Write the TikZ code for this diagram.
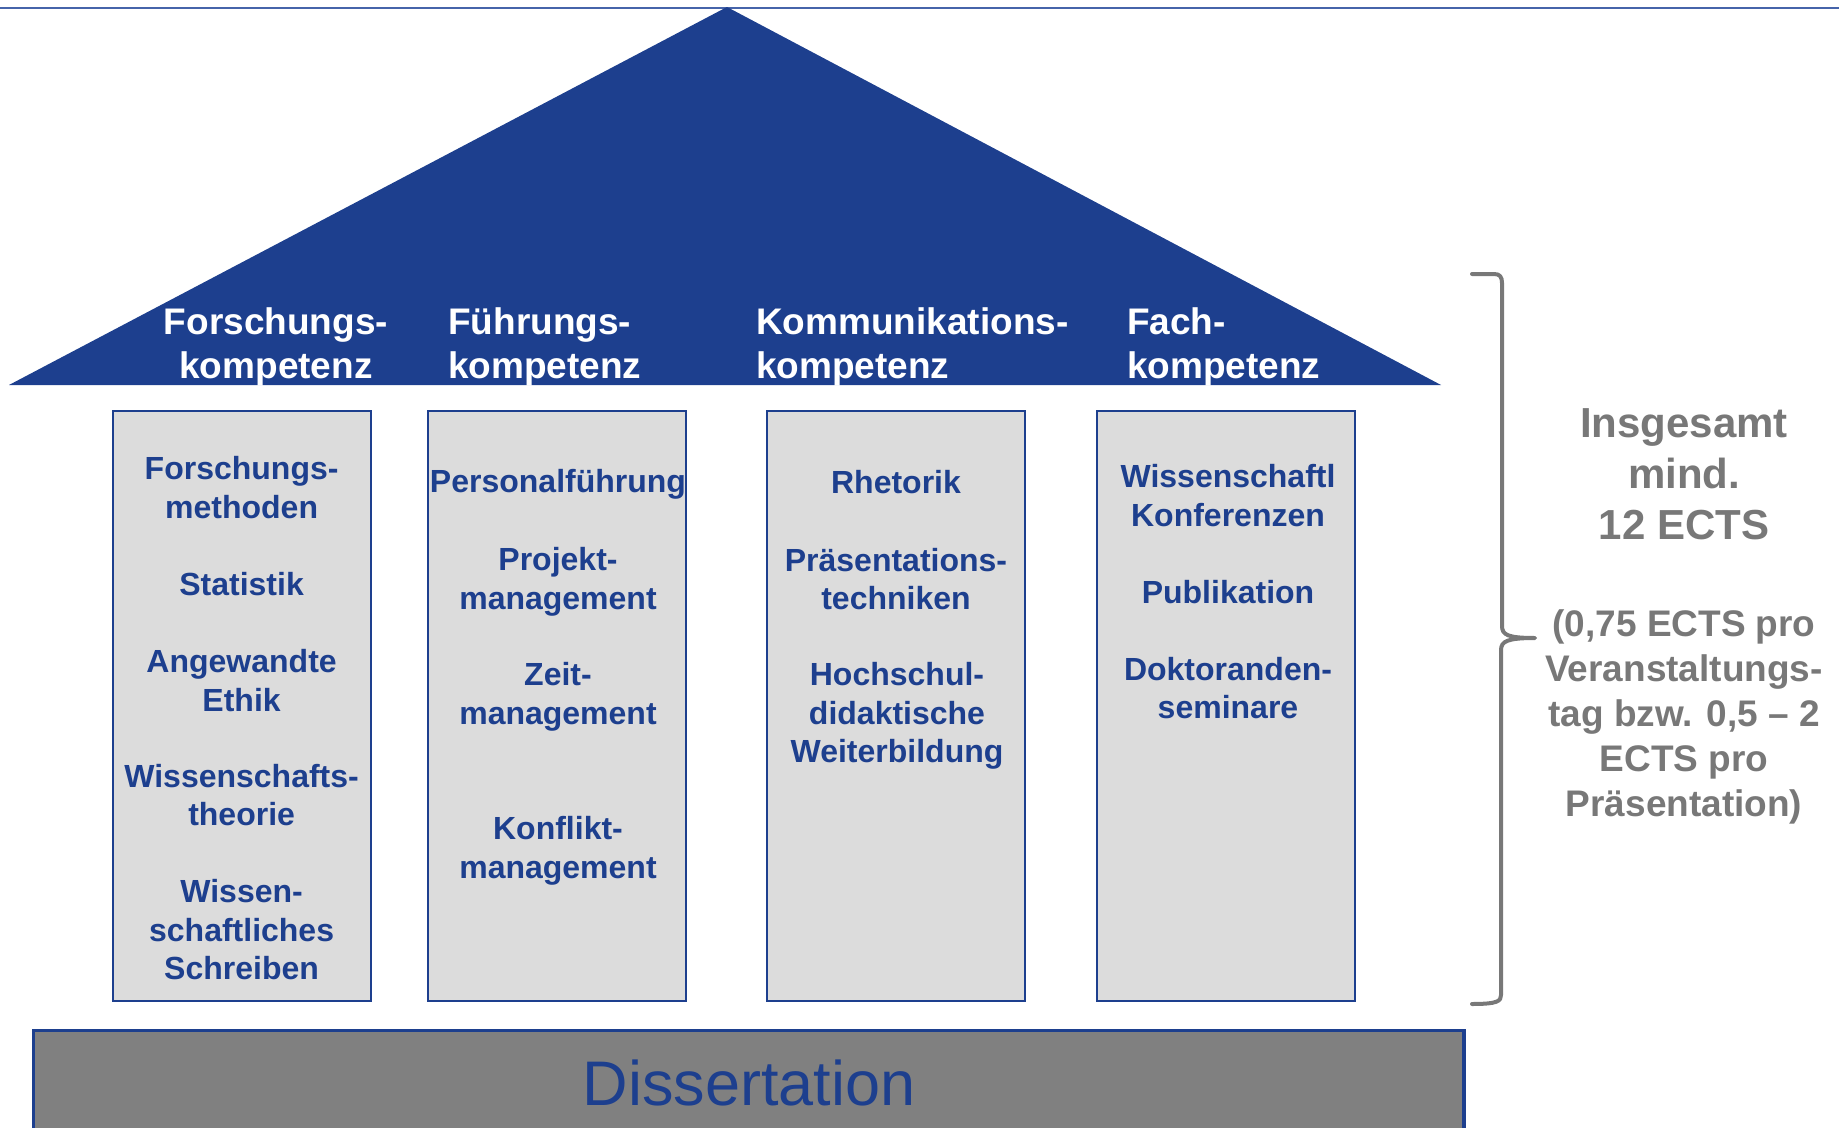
\documentclass[tikz,border=0pt]{standalone}
\usepackage{fontspec}
\setmainfont{Liberation Sans}
\definecolor{roofblue}{RGB}{29,63,142}
\definecolor{pillargray}{RGB}{220,220,220}
\definecolor{basegray}{RGB}{128,128,128}
\definecolor{textgray}{RGB}{120,120,120}
\definecolor{lineblue}{RGB}{70,100,170}
\begin{document}
\begin{tikzpicture}[x=1pt,y=-1pt,
  pillar/.style={draw=roofblue, line width=2pt, fill=pillargray, minimum width=258pt, minimum height=590pt, inner sep=0pt},
  roofl/.style={text=white, font=\bfseries\fontsize{37}{44.5}\selectfont, inner sep=0pt},
  item/.style={text=roofblue, font=\bfseries\fontsize{32}{38.5}\selectfont, align=center, inner sep=0pt},
  sidebig/.style={text=textgray, font=\bfseries\fontsize{42}{51}\selectfont, align=center, inner sep=0pt},
  sidesmall/.style={text=textgray, font=\bfseries\fontsize{37}{44.8}\selectfont, align=center, inner sep=0pt},
  brace/.style={draw=textgray, line width=4pt, line cap=round, line join=round}]
\useasboundingbox (0,0) rectangle (1839,1127);
\clip (0,0) rectangle (1839,1127);
% top line
\draw[lineblue, line width=2.5pt] (0,8) -- (1839,8);
% roof
\fill[roofblue] (9,385) -- (727,7) -- (1441,385) -- cycle;
\node[roofl, align=center] (r1) at (276,347) {Forschungs-\\kompetenz};
\node[roofl, align=left, anchor=west] (r2) at (448,347) {Führungs-\\kompetenz};
\node[roofl, align=left, anchor=west] (r3) at (756,347) {Kommunikations-\\kompetenz};
\node[roofl, align=left, anchor=west] (r4) at (1127,347) {Fach-\\kompetenz};
% pillars
\node[pillar] (p1) at (241.6,705.5) {};
\node[pillar] (p2) at (556.5,705.5) {};
\node[pillar] (p3) at (895.5,705.5) {};
\node[pillar] (p4) at (1225.6,705.5) {};
% pillar 1
\node[item] (a1) at (241.6,487.8) {Forschungs-\\methoden};
\node[item] (a2) at (241.6,584.1) {Statistik};
\node[item] (a3) at (241.6,680.3) {Angewandte\\Ethik};
\node[item] (a4) at (241.6,795.3) {Wissenschafts-\\theorie};
\node[item] (a5) at (241.6,930) {Wissen-\\schaftliches\\Schreiben};
% pillar 2
\node[item] (b1) at (558,484.5) {Personalführung};
\node[item] (b2) at (558,582) {Projekt-\\management};
\node[item] (b3) at (558,697) {Zeit-\\management};
\node[item] (b4) at (558,851) {Konflikt-\\management};
% pillar 3
\node[item] (c1) at (896,482.5) {Rhetorik};
\node[item] (c2) at (896,579) {Präsentations-\\techniken};
\node[item] (c3) at (897,716) {Hochschul-\\didaktische\\Weiterbildung};
% pillar 4
\node[item] (d1) at (1228,495.5) {Wissenschaftl\\Konferenzen};
\node[item] (d2) at (1228,591.8) {Publikation};
\node[item] (d3) at (1228,688) {Doktoranden-\\seminare};
% foundation
\draw[roofblue, line width=3.5pt, fill=basegray] (33.5,1030.7) rectangle (1464,1140);
\node[text=roofblue, font=\fontsize{63}{70}\selectfont, inner sep=0pt] (diss) at (749,1083) {Dissertation};
% brace
\draw[brace] (1472,274) -- (1494,274) .. controls (1500,274) and (1502,277) .. (1502,283)
  -- (1502,626) .. controls (1502,635) and (1508,638) .. (1535,638)
  .. controls (1508,638) and (1501,641) .. (1501,650)
  -- (1501,995) .. controls (1501,1001) and (1498,1004) .. (1472,1004);
% side text
\node[sidebig] (s1) at (1684,474.5) {Insgesamt\\mind.\\12 ECTS};
\node[sidesmall] (s2) at (1684,717) {(0,75 ECTS pro\\Veranstaltungs-\\tag bzw. 0,5 – 2\\ECTS pro\\Präsentation)};
\end{tikzpicture}
\end{document}
